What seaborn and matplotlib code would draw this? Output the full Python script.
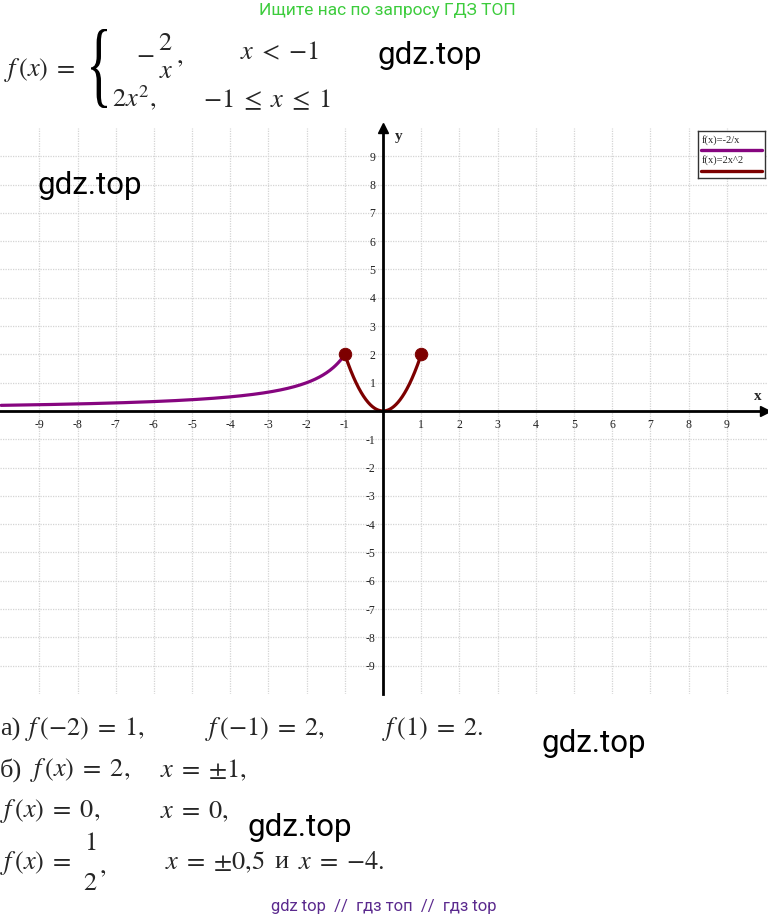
import numpy as np
import pandas as pd
import seaborn as sns
import matplotlib
matplotlib.use("Agg")
import matplotlib.pyplot as plt
from matplotlib.textpath import TextPath
from matplotlib.patches import PathPatch
from matplotlib.font_manager import FontProperties
import matplotlib.transforms as mtransforms

# ---------------- data ----------------
x_ticks = [-9, -8, -7, -6, -5, -4, -3, -2, -1, 1, 2, 3, 4, 5, 6, 7, 8, 9]
y_ticks = [-9, -8, -7, -6, -5, -4, -3, -2, -1, 1, 2, 3, 4, 5, 6, 7, 8, 9]
hyper_range = [-10.0, -1.0]      # f(x) = -2/x, x < -1
parab_range = [-1.0, 1.0]        # f(x) = 2x^2, -1 <= x <= 1
end_x = [-1, 1]
end_y = [2, 2]
legend_labels = ["f(x)=-2/x", "f(x)=2x^2"]
series_colors = ["#86057f", "#7d0000"]

xh = np.linspace(hyper_range[0], hyper_range[1], 300)
xp = np.linspace(parab_range[0], parab_range[1], 300)
df_h = pd.DataFrame({"x": xh, "y": -2 / xh})
df_p = pd.DataFrame({"x": xp, "y": 2 * xp ** 2})
df_pts = pd.DataFrame({"x": end_x, "y": end_y})

# ---------------- style ----------------
sns.set_style("white")
plt.rcParams["mathtext.fontset"] = "stix"
plt.rcParams["font.family"] = ["DejaVu Sans"]

W, H = 768, 921
fig = plt.figure(figsize=(W / 100, H / 100), dpi=100)

def px(x, y):
    return x / W, 1 - y / H

def T(x, y, s, **kw):
    fx, fy = px(x, y)
    fig.text(fx, fy, s, **kw)

# ---------------- graph ----------------
top, bottom = 128, 694
ax = fig.add_axes([0, 1 - bottom / H, 1, (bottom - top) / H])
ax.set_xlim(-10.03, 10.08)
ax.set_ylim(-10.0, 10.0)
ax.set_facecolor("white")

for s in ["top", "right"]:
    ax.spines[s].set_visible(False)
ax.spines["left"].set_position(("data", 0))
ax.spines["bottom"].set_position(("data", 0))
ax.spines["left"].set_linewidth(2.0)
ax.spines["bottom"].set_linewidth(2.0)
ax.spines["left"].set_color("black")
ax.spines["bottom"].set_color("black")
ax.set_xticks(x_ticks)
ax.set_yticks(y_ticks)
ax.set_xticklabels([str(v) for v in x_ticks])
ax.set_yticklabels([str(v) for v in y_ticks])
ax.tick_params(axis="both", direction="inout", length=9, width=1.2, color="black",
               labelsize=8.5, labelcolor="#222222", pad=1)
for lab in ax.get_xticklabels() + ax.get_yticklabels():
    lab.set_fontfamily("Liberation Serif")
ax.grid(True, color="#d4d4d4", linestyle=(0, (1, 1)), linewidth=0.9)
ax.set_axisbelow(True)

# arrows
ax.plot(0.996, 0, marker=">", color="black", markersize=7,
        transform=ax.get_yaxis_transform(), clip_on=False)
ax.plot(0, 1.0, marker="^", color="black", markersize=7,
        transform=ax.get_xaxis_transform(), clip_on=False)

sns.lineplot(data=df_h, x="x", y="y", color=series_colors[0], linewidth=2.3,
             ax=ax, legend=False, sort=False)
sns.lineplot(data=df_p, x="x", y="y", color=series_colors[1], linewidth=2.3,
             ax=ax, legend=False, sort=False)
sns.scatterplot(data=df_pts, x="x", y="y", color=series_colors[1], s=80,
                edgecolor=series_colors[1], ax=ax, zorder=5, legend=False)
ax.set_xlabel("")
ax.set_ylabel("")

T(758, 397, "x", fontsize=11, fontweight="bold", family="Liberation Serif",
  ha="center", va="center")
T(399, 136, "y", fontsize=11, fontweight="bold", family="Liberation Serif",
  ha="center", va="center")

# legend box
lax = fig.add_axes([698 / W, 1 - 178 / H, 67 / W, 47 / H])
lax.set_xlim(0, 1)
lax.set_ylim(0, 1)
lax.set_xticks([])
lax.set_yticks([])
for s in lax.spines.values():
    s.set_linewidth(1.0)
    s.set_color("#333333")
lax.set_facecolor("white")
lax.text(0.05, 0.80, legend_labels[0], fontsize=7.6, family="Liberation Serif",
         va="center", ha="left")
lax.plot([0.05, 0.95], [0.60, 0.60], color=series_colors[0], lw=2.4)
lax.text(0.05, 0.38, legend_labels[1], fontsize=7.6, family="Liberation Serif",
         va="center", ha="left")
lax.plot([0.05, 0.95], [0.15, 0.15], color=series_colors[1], lw=2.4)

# ---------------- header ----------------
T(387, 11, "Ищите нас по запросу ГДЗ ТОП", fontsize=12.5, family="Roboto",
  color="#3dcc3d", ha="center", va="center")

FS = 19
T(4, 70, r"$f\,(x)\;=$", fontsize=FS, ha="left", va="center")
# large brace
tp = TextPath((0, 0), "{", size=100, prop=FontProperties(family="Liberation Serif"))
ext = tp.get_extents()
bx0, bx1, by0, by1 = 91, 107, 29, 108
sx = (bx1 - bx0) / ext.width
sy = (by1 - by0) / ext.height
tr = mtransforms.Affine2D().translate(-ext.x0, -ext.y0).scale(sx, sy).translate(bx0, H - by1)
fig.patches.append(PathPatch(tp, transform=tr, facecolor="black", edgecolor="none"))
# -2/x stacked as in the source (bar not visible there)
T(136, 54, r"$-$", fontsize=FS, ha="left", va="center")
T(165, 43, r"$2$", fontsize=FS, ha="center", va="center")
T(166, 71, r"$x$", fontsize=FS, ha="center", va="center")
T(176, 56, r"$,$", fontsize=FS, ha="left", va="center")
T(240, 52, r"$x\;<\;{-1}$", fontsize=FS, ha="left", va="center")
T(112, 98, r"$2x^2,$", fontsize=FS, ha="left", va="center")
T(203, 100, r"$-1\;\leq\;x\;\leq\;1$", fontsize=FS, ha="left", va="center")

# watermarks
for (wx, wy) in [(430, 56), (90, 185), (594, 743), (300, 828)]:
    T(wx, wy, "gdz.top", fontsize=22.5, family="Roboto", color="black",
      ha="center", va="center")

# ---------------- answers ----------------
SER = "Liberation Serif"
T(0, 729, "а)", fontsize=FS, family=SER, ha="left", va="center")
T(25, 729, r"$f\,(-2)\;=\;1,$", fontsize=FS, ha="left", va="center")
T(205, 729, r"$f\,(-1)\;=\;2,$", fontsize=FS, ha="left", va="center")
T(382, 729, r"$f\,(1)\;=\;2.$", fontsize=FS, ha="left", va="center")

T(0, 770, "б)", fontsize=FS, family=SER, ha="left", va="center")
T(30, 770, r"$f\,(x)\;=\;2,$", fontsize=FS, ha="left", va="center")
T(160, 770, r"$x\;=\;{\pm 1},$", fontsize=FS, ha="left", va="center")

T(0, 811, r"$f\,(x)\;=\;0,$", fontsize=FS, ha="left", va="center")
T(160, 811, r"$x\;=\;0,$", fontsize=FS, ha="left", va="center")

T(0, 863, r"$f\,(x)\;=$", fontsize=FS, ha="left", va="center")
T(90, 843, r"$1$", fontsize=FS, ha="center", va="center")
T(90, 883, r"$2$", fontsize=FS, ha="center", va="center")
T(99, 866, r"$,$", fontsize=FS, ha="left", va="center")
T(165, 862, r"$x\;=\;{\pm 0{,}5}$", fontsize=FS, ha="left", va="center")
T(274, 862, "и", fontsize=FS, family=SER, ha="left", va="center")
T(298, 862, r"$x\;=\;{-4}.$", fontsize=FS, ha="left", va="center")

T(384, 906, "gdz top  //  гдз топ  //  гдз top", fontsize=12, family="Roboto",
  color="#5b2a8e", ha="center", va="center")

fig.savefig("out.png", dpi=100)
